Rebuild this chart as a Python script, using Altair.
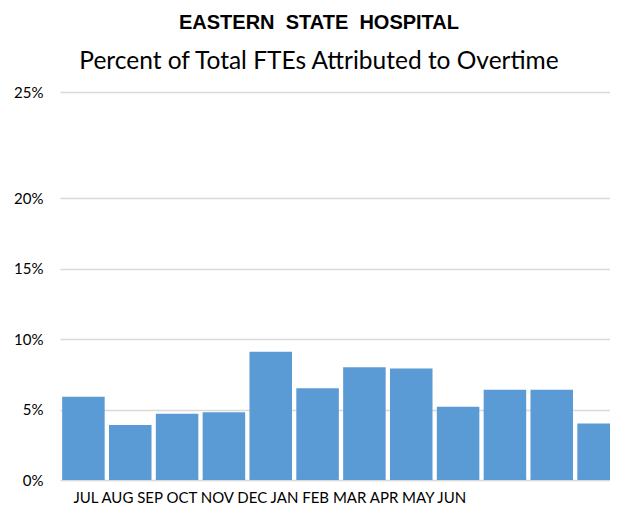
import altair as alt
import pandas as pd

# ---- data ----
months = ["JUL", "AUG", "SEP", "OCT", "NOV", "DEC", "JAN", "FEB", "MAR", "APR", "MAY", "JUN"]
overtime_pct = [0.059, 0.039, 0.047, 0.048, 0.091, 0.065, 0.080, 0.079, 0.052, 0.064, 0.064, 0.040]
y_ticks = [0, 0.05, 0.10, 0.15, 0.20, 0.25]
title_text = "EASTERN\u00a0 STATE\u00a0 HOSPITAL"
subtitle_text = "Percent of Total FTEs Attributed to Overtime"

df = pd.DataFrame({"month": months, "pct": overtime_pct})

PLOT_W = 550
PLOT_H = 388
FONT = "Lato"
TITLE_FONT = "Liberation Sans"

bars = alt.Chart(df).mark_bar(color="#5B9BD5").encode(
    x=alt.X(
        "month:N",
        sort=months,
        scale=alt.Scale(range=[0, 562], paddingInner=0.092, paddingOuter=0.046),
        axis=alt.Axis(
            labels=False, ticks=False, domain=False, grid=False,
            title=" ".join(months),
            titleFont=FONT, titleFontSize=15, titleFontWeight="normal",
            titleColor="#000000", titleAnchor="start", titleAlign="left",
            titleBaseline="alphabetic", titleX=13, titleY=22,
        ),
    ),
    y=alt.Y(
        "pct:Q",
        scale=alt.Scale(domain=[0, 0.20, 0.25], range=[PLOT_H, PLOT_H - 282, 0],
                        nice=False, zero=False),
        axis=alt.Axis(
            values=y_ticks, format=".0%", grid=True, gridColor="#D9D9D9",
            gridWidth=1.5, domain=False, ticks=False, labelPadding=17,
            labelFont=FONT, labelFontSize=15, labelColor="#000000", title=None,
        ),
    ),
)

chart = bars.properties(
    width=PLOT_W,
    height=PLOT_H,
    title=alt.TitleParams(
        text=title_text, subtitle=subtitle_text,
        font=TITLE_FONT, fontSize=20, fontWeight="bold", color="#000000",
        subtitleFont=FONT, subtitleFontSize=24.5, subtitleColor="#000000",
        subtitlePadding=17, anchor="middle", frame="group", offset=12, dx=-16,
    ),
    padding={"left": 52, "top": 84, "right": 0, "bottom": 24},
    autosize=alt.AutoSizeParams(type="none"),
).configure_view(stroke=None)

chart.save("out.html", embed_options={"renderer": "svg", "actions": False})
